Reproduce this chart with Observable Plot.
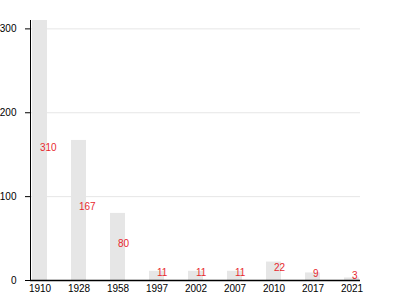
<!DOCTYPE html>
<html>
<head>
<meta charset="utf-8">
<script src="https://cdn.jsdelivr.net/npm/d3@7"></script>
<script src="https://cdn.jsdelivr.net/npm/@observablehq/plot@0.6"></script>
<style>
body { margin: 0; background: #fff; }
</style>
</head>
<body>
<div id="chart"></div>
<script>
const years = ["1910", "1928", "1958", "1997", "2002", "2007", "2010", "2017", "2021"];
const values = [310, 167, 80, 11, 11, 11, 22, 9, 3];
const yTicks = [0, 100, 200, 300];

const data = years.map((y, i) => ({year: y, value: values[i]}));

const chart = Plot.plot({
  width: 400,
  height: 300,
  marginTop: 20,
  marginLeft: 30,
  marginRight: 40,
  marginBottom: 20,
  style: {fontFamily: "Liberation Sans, Arial, sans-serif", fontSize: "10px", background: "#fff"},
  x: {domain: years, paddingInner: 0.62, paddingOuter: 0.01, label: null},
  y: {domain: [0, 310], label: null},
  marks: [
    Plot.gridY(yTicks, {stroke: "#e6e6e6", strokeOpacity: 1}),
    Plot.barY(data, {x: "year", y: "value", fill: "#e6e6e6"}),
    Plot.text(data, {x: "year", y: d => d.value / 2, text: d => String(d.value), textAnchor: "start", lineAnchor: "bottom", fill: "#e8282e", fontSize: 10}),
    Plot.axisY(yTicks, {tickSize: 5, tickPadding: 9, label: null, fill: "#000", stroke: "#000"}),
    Plot.axisX({tickSize: 0, tickPadding: 4, label: null, fill: "#000"}),
    Plot.ruleY([0], {stroke: "#000", strokeWidth: 1.5}),
    Plot.frame({anchor: "left", stroke: "#000"})
  ]
});
document.getElementById("chart").appendChild(chart);
</script>
</body>
</html>
